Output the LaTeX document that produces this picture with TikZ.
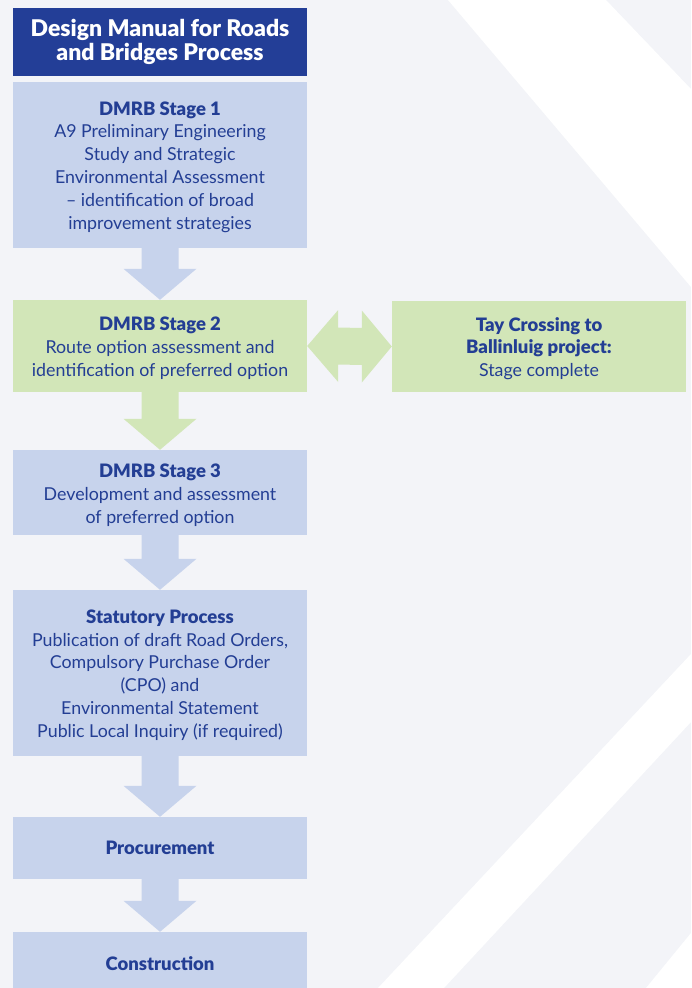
\documentclass[tikz,border=0pt]{standalone}
\usepackage{fontspec}
\setmainfont{Lato}[BoldFont={Lato Black}]
\usetikzlibrary{calc}
\definecolor{bgc}{HTML}{F3F4F8}
\definecolor{titlec}{HTML}{233E97}
\definecolor{bluef}{HTML}{C7D3EC}
\definecolor{greenf}{HTML}{D2E6B8}
\definecolor{txtc}{HTML}{233E94}
\newcommand{\hd}[1]{{\fontsize{18.5}{22.8}\selectfont\bfseries #1}}
\tikzset{
  box/.style={rectangle, inner sep=0pt, minimum width=294pt, align=center, text=txtc, font=\fontsize{17.8}{22.8}\selectfont},
  bluebox/.style={box, fill=bluef},
  greenbox/.style={box, fill=greenf},
  titlebox/.style={box, fill=titlec, text=white, font=\fontsize{23}{23.5}\selectfont\bfseries},
}
\newcommand{\downarrowshape}[3]{%
  \fill[#1] ($(#2.south)+(-18.5,0)$) -- ($(#3.north)+(-18.5,-31)$) -- ($(#3.north)+(-36.5,-31)$) -- (#3.north)
   -- ($(#3.north)+(36.5,-31)$) -- ($(#3.north)+(18.5,-31)$) -- ($(#2.south)+(18.5,0)$) -- cycle;}
\begin{document}
\begin{tikzpicture}[x=1pt,y=-1pt]
\useasboundingbox (0,0) rectangle (691,988);
\fill[bgc] (0,0) rectangle (691,988);
\fill[white] (448,0) -- (606,0) -- (691,89) -- (691,287) -- cycle;
\fill[white] (691,654) -- (691,722) -- (444,988) -- (378,988) -- cycle;
\fill[white] (691,933) -- (691,988) -- (646,988) -- cycle;

\node[titlebox, minimum height=68pt] (title) at (160,42) {Design Manual for Roads\\and Bridges Process};
\node[bluebox, minimum height=166pt] (s1) at (160,165) {};
\node[txtc, align=center, font=\fontsize{17.8}{22.8}\selectfont] (s1t) at (160,167) {\hd{DMRB Stage 1}\\A9 Preliminary Engineering\\Study and Strategic\\Environmental Assessment\\– identification of broad\\improvement strategies};
\node[greenbox, minimum height=92pt] (s2) at (160,346) {};
\node[txtc, align=center, font=\fontsize{17.8}{22.8}\selectfont] (s2t) at (160,348.5) {\hd{DMRB Stage 2}\\Route option assessment and\\identification of preferred option};
\node[greenbox, minimum height=91pt] (tay) at (539,346.5) {};
\node[txtc, align=center, font=\fontsize{17.8}{22.8}\selectfont] (tayt) at (539,348.5) {\hd{Tay Crossing to}\\\hd{Ballinluig project:}\\Stage complete};
\node[bluebox, minimum height=85pt] (s3) at (160,492.5) {};
\node[txtc, align=center, font=\fontsize{17.8}{22.8}\selectfont] (s3t) at (160,495) {\hd{DMRB Stage 3}\\Development and assessment\\of preferred option};
\node[bluebox, minimum height=166pt] (stat) at (160,673) {};
\node[txtc, align=center, font=\fontsize{17.8}{22.8}\selectfont] (statt) at (160,675) {\hd{Statutory Process}\\Publication of draft Road Orders,\\Compulsory Purchase Order\\(CPO) and\\Environmental Statement\\Public Local Inquiry (if required)};
\node[bluebox, minimum height=62pt] (proc) at (160,848) {\hd{Procurement}};
\node[bluebox, minimum height=64pt] (cons) at (160,964) {\hd{Construction}};

\downarrowshape{bluef}{s1}{s2}
\downarrowshape{greenf}{s2}{s3}
\downarrowshape{bluef}{s3}{stat}
\downarrowshape{bluef}{stat}{proc}
\downarrowshape{bluef}{proc}{cons}

\fill[greenf] (s2.east) -- ($(s2.east)+(31,-36)$) -- ($(s2.east)+(31,-18.5)$) -- ($(tay.west)+(-30,-18.5)$)
  -- ($(tay.west)+(-30,-36)$) -- (tay.west) -- ($(tay.west)+(-30,36)$) -- ($(tay.west)+(-30,18.5)$)
  -- ($(s2.east)+(31,18.5)$) -- ($(s2.east)+(31,36)$) -- cycle;
\end{tikzpicture}
\end{document}
